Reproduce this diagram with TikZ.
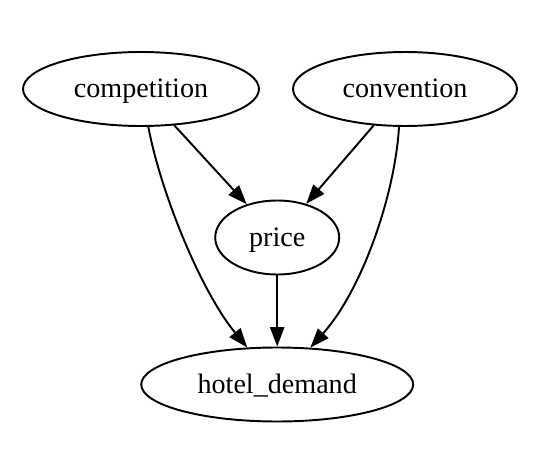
\documentclass[tikz,border=0pt]{standalone}
\usepackage{fontspec}
\setmainfont{Liberation Serif}
\usetikzlibrary{arrows.meta,shapes.geometric}

\begin{document}
\begin{tikzpicture}[>={Triangle[length=11pt, width=8pt]}, x=0.02cm, y=-0.02cm,
		var/.style={draw, ellipse, line width=1.1pt, inner sep=0pt, minimum height=1.48cm,
			text height=13pt, text depth=3pt, font=\fontsize{16pt}{19pt}\selectfont},
		edge/.style={->, line width=1.1pt}]

		\useasboundingbox (0,0) rectangle (537,473);

		\node[var, minimum width=4.72cm] (comp) at (141, 89) {competition};
		\node[var, minimum width=4.48cm] (conv) at (405, 89) {convention};
		\node[var, minimum width=2.48cm] (price) at (277.2, 237.5) {price};
		\node[var, minimum width=5.44cm] (demand) at (277.2, 384.5) {hotel\_demand};

		% straight edges
		\draw[edge] (comp) -- (price);
		\draw[edge] (conv) -- (price);
		\draw[edge] (price) -- (demand);

		% curved edges
		\draw[edge] (comp.-79) .. controls (160, 190) and (200, 290) .. (demand.129);
		\draw[edge] (conv.-99) .. controls (395, 195) and (362, 290) .. (demand.48);
	\end{tikzpicture}
\end{document}
